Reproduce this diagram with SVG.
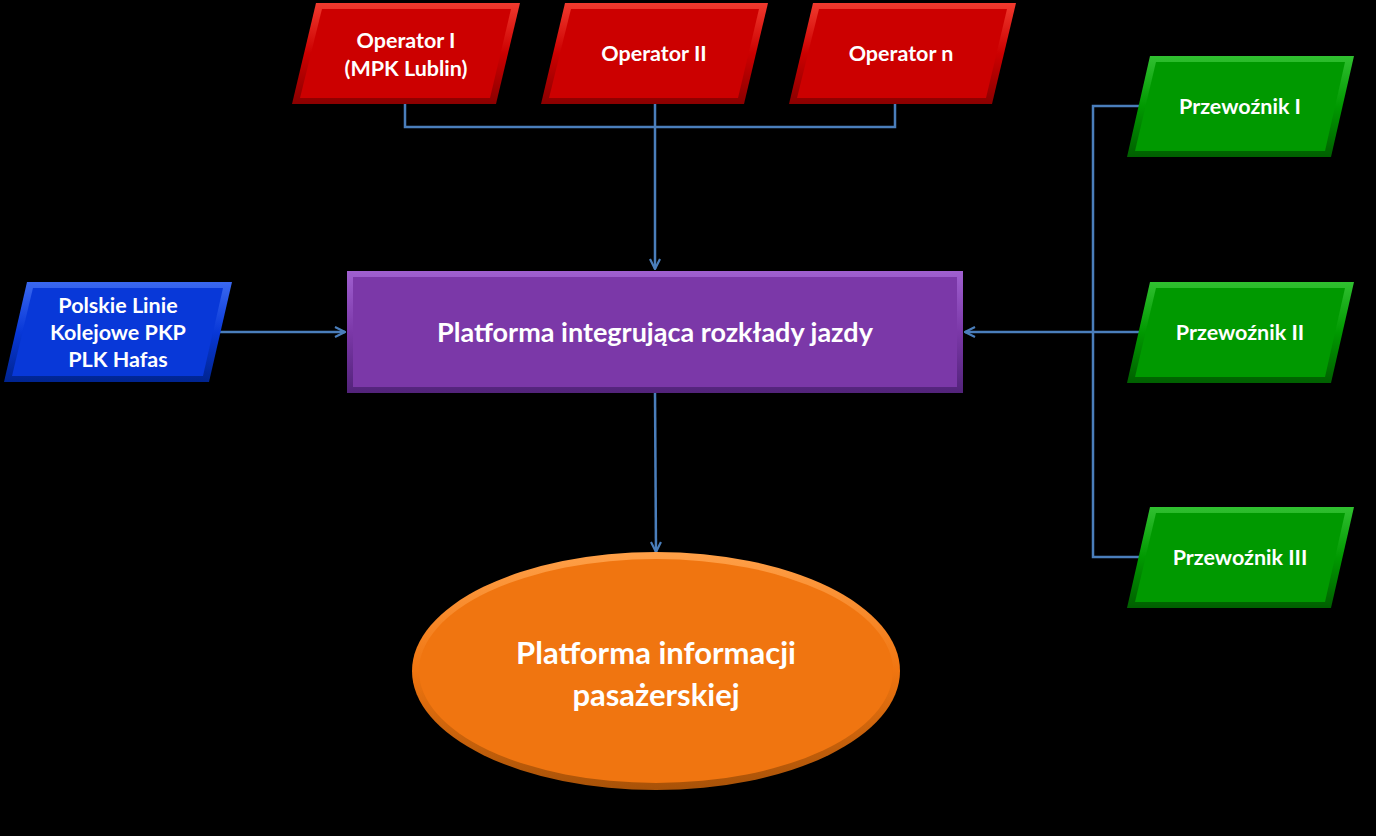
<svg xmlns="http://www.w3.org/2000/svg" width="1376" height="836" viewBox="0 0 1376 836">
<defs>
<style>
.t{font-family:Lato,"Open Sans","Liberation Sans",sans-serif;font-weight:bold;fill:#fff;text-anchor:middle}
.s{font-size:21.5px}
.c{fill:none;stroke:#4A7EBB;stroke-width:2.5}
</style>
<linearGradient id="gr" x1="0" y1="0" x2="0" y2="1"><stop offset="0" stop-color="#f03a2e"/><stop offset="0.5" stop-color="#cc0000"/><stop offset="1" stop-color="#8a0000"/></linearGradient>
<linearGradient id="gb" x1="0" y1="0" x2="0" y2="1"><stop offset="0" stop-color="#3a68f0"/><stop offset="0.5" stop-color="#0838d8"/><stop offset="1" stop-color="#00248f"/></linearGradient>
<linearGradient id="gg" x1="0" y1="0" x2="0" y2="1"><stop offset="0" stop-color="#30c030"/><stop offset="0.5" stop-color="#009900"/><stop offset="1" stop-color="#005f00"/></linearGradient>
<linearGradient id="gp" x1="0" y1="0" x2="0" y2="1"><stop offset="0" stop-color="#a060d0"/><stop offset="0.5" stop-color="#7b38a8"/><stop offset="1" stop-color="#52237a"/></linearGradient>
<linearGradient id="go" x1="0" y1="0" x2="0" y2="1"><stop offset="0" stop-color="#ffa048"/><stop offset="0.5" stop-color="#f07510"/><stop offset="1" stop-color="#a85208"/></linearGradient>
<marker id="a" viewBox="0 0 12 12" refX="11" refY="6" markerWidth="12" markerHeight="12" markerUnits="userSpaceOnUse" orient="auto"><path d="M1,1 L11,6 L1,11" fill="none" stroke="#4A7EBB" stroke-width="2.2"/></marker>
</defs>
<rect width="1376" height="836" fill="#000"/>
<g id="connectors">
<path class="c" d="M405,104 V127 H895 V104"/>
<path class="c" d="M655,104 V269" marker-end="url(#a)"/>
<path class="c" d="M218,332 H345" marker-end="url(#a)"/>
<path class="c" d="M1139,106 H1093 V557 H1139"/>
<path class="c" d="M1139,332 H965" marker-end="url(#a)"/>
<path class="c" d="M655,393 L656,552" marker-end="url(#a)"/>
</g>
<g id="op1">
<polygon points="316,3 520,3 496,104 292,104" fill="url(#gr)"/>
<polygon points="322,9 511,9 490,98 300,98" fill="#cc0000"/>
<text class="t s" x="406" y="48">Operator I</text>
<text class="t s" x="406" y="76">(MPK Lublin)</text>
</g>
<g id="op2">
<polygon points="565,3 768,3 744,104 541,104" fill="url(#gr)"/>
<polygon points="571,9 759,9 738,98 549,98" fill="#cc0000"/>
<text class="t s" x="654" y="61">Operator II</text>
</g>
<g id="opn">
<polygon points="813,3 1016,3 992,104 789,104" fill="url(#gr)"/>
<polygon points="819,9 1007,9 986,98 797,98" fill="#cc0000"/>
<text class="t s" x="901" y="61">Operator n</text>
</g>
<g id="plk">
<polygon points="27,282 232,282 209,382 4,382" fill="url(#gb)"/>
<polygon points="33,288 223,288 203,376 12,376" fill="#0838d8"/>
<text class="t s" x="118" y="313">Polskie Linie</text>
<text class="t s" x="118" y="340">Kolejowe PKP</text>
<text class="t s" x="118" y="367">PLK Hafas</text>
</g>
<g id="platforma">
<rect x="347" y="271" width="616" height="122" fill="url(#gp)"/>
<rect x="353" y="277" width="604" height="110" fill="#7b38a8"/>
<text class="t" font-size="27" x="655" y="342">Platforma integrująca rozkłady jazdy</text>
</g>
<g id="p1">
<polygon points="1150,56 1354,56 1331,157 1127,157" fill="url(#gg)"/>
<polygon points="1156,62 1345,62 1325,151 1135,151" fill="#009900"/>
<text class="t s" x="1240" y="114">Przewoźnik I</text>
</g>
<g id="p2">
<polygon points="1150,282 1354,282 1331,383 1127,383" fill="url(#gg)"/>
<polygon points="1156,288 1345,288 1325,377 1135,377" fill="#009900"/>
<text class="t s" x="1240" y="340">Przewoźnik II</text>
</g>
<g id="p3">
<polygon points="1150,507 1354,507 1331,608 1127,608" fill="url(#gg)"/>
<polygon points="1156,513 1345,513 1325,602 1135,602" fill="#009900"/>
<text class="t s" x="1240" y="565">Przewoźnik III</text>
</g>
<g id="info">
<ellipse cx="656" cy="671" rx="244" ry="119" fill="url(#go)"/>
<ellipse cx="656" cy="671" rx="237" ry="112" fill="#f07510"/>
<text class="t" font-size="31" x="656" y="664">Platforma informacji</text>
<text class="t" font-size="31" x="656" y="706">pasażerskiej</text>
</g>
</svg>
